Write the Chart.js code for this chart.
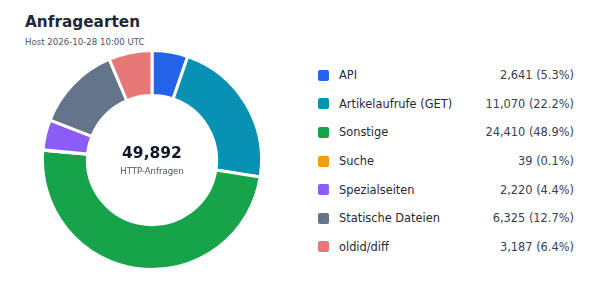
<!DOCTYPE html>
<html>
<head>
<meta charset="utf-8">
<script src="https://cdn.jsdelivr.net/npm/chart.js@4.4.0/dist/chart.umd.min.js"></script>
<style>
  body { margin: 0; width: 600px; height: 303px; background: #fff; font-family: "DejaVu Sans", sans-serif; position: relative; overflow: hidden; }
  h1 { position: absolute; left: 25px; top: 13px; margin: 0; font-size: 15.3px; font-weight: bold; color: #1f2937; }
  .sub { position: absolute; left: 25px; top: 37px; font-size: 8.6px; color: #4b5563; }
  .chartBox { position: absolute; left: 41px; top: 49px; width: 222px; height: 222px; }
  .center { position: absolute; left: 41px; top: 49px; width: 222px; height: 222px; display: flex; flex-direction: column; align-items: center; justify-content: center; pointer-events: none; }
  .center .num { font-size: 15.5px; font-weight: bold; color: #111827; margin-top: 0px; }
  .center .lbl { font-size: 8.5px; color: #4b5563; margin-top: 4px; }
  #legend { position: absolute; left: 318px; top: 61px; width: 256px; }
  .row { display: flex; align-items: center; height: 28.6px; font-size: 11.4px; color: #1f2937; }
  .sw { width: 11px; height: 11px; border-radius: 2px; margin-right: 10px; flex: none; }
  .name { flex: 1; }
  .val { color: #374151; }
</style>
</head>
<body>
<h1>Anfragearten</h1>
<div class="sub">Host 2026-10-28 10:00 UTC</div>
<div class="chartBox"><canvas id="donut"></canvas></div>
<div class="center"><div class="num" id="total"></div><div class="lbl">HTTP-Anfragen</div></div>
<div id="legend"></div>
<script>
const categories = ['API', 'Artikelaufrufe (GET)', 'Sonstige', 'Suche', 'Spezialseiten', 'Statische Dateien', 'oldid/diff'];
const requests = [2641, 11070, 24410, 39, 2220, 6325, 3187];
const colors = ['#2563eb', '#0891b2', '#16a34a', '#f59e0b', '#8b5cf6', '#64748b', '#e87878'];

const total = requests.reduce((a, b) => a + b, 0);
document.getElementById('total').textContent = total.toLocaleString('en-US');

const legend = document.getElementById('legend');
categories.forEach((c, i) => {
    const pct = (requests[i] / total * 100).toFixed(1);
    const row = document.createElement('div');
    row.className = 'row';
    row.innerHTML = '<span class="sw" style="background:' + colors[i] + '"></span>' +
        '<span class="name">' + c + '</span>' +
        '<span class="val">' + requests[i].toLocaleString('en-US') + ' (' + pct + '%)</span>';
    legend.appendChild(row);
});

new Chart(document.getElementById('donut'), {
    type: 'doughnut',
    data: {
        labels: categories,
        datasets: [{
            data: requests,
            backgroundColor: colors,
            borderColor: '#ffffff',
            borderWidth: 3
        }]
    },
    options: {
        responsive: true,
        maintainAspectRatio: false,
        animation: false,
        cutout: '59%',
        layout: { padding: 0 },
        plugins: { legend: { display: false }, tooltip: { enabled: false } }
    }
});
</script>
</body>
</html>
